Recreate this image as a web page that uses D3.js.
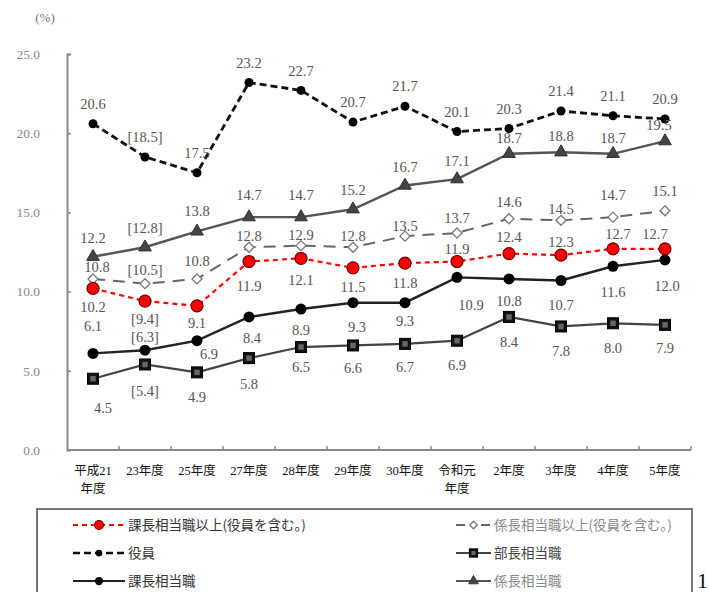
<!DOCTYPE html>
<html>
<head>
<meta charset="utf-8">
<script src="https://cdn.jsdelivr.net/npm/d3@7"></script>
<style>
  html, body { margin: 0; padding: 0; background: #fff; }
  svg { display: block; }
  text { font-family: "Liberation Serif", "DejaVu Serif", "Noto Sans CJK JP", serif; }
</style>
</head>
<body>
<svg id="chart" width="709" height="592"></svg>
<script>
// Fiscal years on the horizontal axis (two-line labels split on "\n")
const years = ["平成21\n年度", "23年度", "25年度", "27年度", "28年度", "29年度",
               "30年度", "令和元\n年度", "2年度", "3年度", "4年度", "5年度"];
// Values for 平成23年度 are shown in brackets
const bracketedYear = "23年度";

const yTicks = [0, 5, 10, 15, 20, 25];

// Share of women (%) by position
const yakuin         = [20.6, 18.5, 17.5, 23.2, 22.7, 20.7, 21.7, 20.1, 20.3, 21.4, 21.1, 20.9];
const kakaricho      = [12.2, 12.8, 13.8, 14.7, 14.7, 15.2, 16.7, 17.1, 18.7, 18.8, 18.7, 19.5];
const kakarichoUp    = [10.8, 10.5, 10.8, 12.8, 12.9, 12.8, 13.5, 13.7, 14.6, 14.5, 14.7, 15.1];
const kachoUp        = [10.2,  9.4,  9.1, 11.9, 12.1, 11.5, 11.8, 11.9, 12.4, 12.3, 12.7, 12.7];
const kacho          = [ 6.1,  6.3,  6.9,  8.4,  8.9,  9.3,  9.3, 10.9, 10.8, 10.7, 11.6, 12.0];
const bucho          = [ 4.5,  5.4,  4.9,  5.8,  6.5,  6.6,  6.7,  6.9,  8.4,  7.8,  8.0,  7.9];

const seriesNames = {
  kachoUp: "課長相当職以上(役員を含む。)",
  kakarichoUp: "係長相当職以上(役員を含む。)",
  yakuin: "役員",
  bucho: "部長相当職",
  kacho: "課長相当職",
  kakaricho: "係長相当職"
};

// Label placement per series: [dx, dy] from the point, per year
const A = (dy) => years.map(() => [0, dy]);
const labelOffsets = {
  yakuin: A(-20),
  kakaricho: [[0,-19],[0,-19],[0,-20],[0,-22],[0,-22],[0,-19],[0,-19],[0,-18],[0,-16],[0,-16],[0,-16],[-6,-16]],
  kakarichoUp: [[4,-12],[0,-14],[0,-18],[0,-11],[0,-11],[0,-11],[0,-10],[0,-15],[0,-17],[0,-11],[0,-22],[0,-20]],
  kachoUp: [[0,18],[0,18],[0,17],[0,24],[0,22],[0,19],[0,20],[0,-13],[0,-17],[0,-13],[5,-15],[-10,-15]],
  kacho: [[0,-27],[0,-13],[12,13],[3,21],[0,21],[4,24],[0,18],[14,28],[0,22],[0,24],[0,26],[2,26]],
  bucho: [[10,29],[0,26],[0,25],[0,26],[0,20],[0,22],[0,23],[0,24],[0,25],[0,24],[0,25],[0,23]]
};

const svg = d3.select("#chart");

const margin = { left: 67, right: 691, top: 54, bottom: 450 };
const x = d3.scaleBand().domain(years).range([margin.left, margin.right]).paddingInner(0).paddingOuter(0);
const cx = (i) => x(years[i]) + x.bandwidth() / 2;
const y = d3.scaleLinear().domain([0, 25]).range([margin.bottom, margin.top]);

// Axes
const axisColor = "#8a8a8a";
const yAxis = d3.axisLeft(y).tickValues(yTicks).tickFormat(d3.format(".1f")).tickSize(-4).tickPadding(27);
const gy = svg.append("g").attr("transform", `translate(${margin.left},0)`).call(yAxis);
gy.select(".domain").attr("stroke", axisColor).attr("stroke-width", 2);
gy.selectAll(".tick line").attr("stroke", axisColor).attr("stroke-width", 1.5);
gy.selectAll(".tick text").attr("fill", "#888").attr("font-size", 13.5)
  .style("font-family", "'Liberation Serif', serif");

// x axis baseline and boundary ticks
svg.append("line").attr("x1", margin.left).attr("x2", margin.right)
  .attr("y1", margin.bottom).attr("y2", margin.bottom)
  .attr("stroke", axisColor).attr("stroke-width", 2);
svg.append("g").selectAll("line").data(years.slice(1).concat(["__end"]))
  .join("line")
  .attr("x1", d => d === "__end" ? margin.right : x(d))
  .attr("x2", d => d === "__end" ? margin.right : x(d))
  .attr("y1", margin.bottom).attr("y2", margin.bottom - 4)
  .attr("stroke", axisColor).attr("stroke-width", 1.5);

// x labels
const xl = svg.append("g").selectAll("text").data(years).join("text")
  .attr("x", d => x(d) + x.bandwidth() / 2)
  .attr("y", 475)
  .attr("text-anchor", "middle")
  .attr("font-size", 12.5)
  .attr("fill", "#111");
xl.each(function(d) {
  const parts = d.split("\n");
  const t = d3.select(this);
  parts.forEach((p, k) => {
    t.append("tspan").attr("x", x(d) + x.bandwidth() / 2).attr("dy", k === 0 ? 0 : 18).text(p);
  });
});

// (%) unit
svg.append("text").attr("x", 45).attr("y", 22).attr("text-anchor", "middle")
  .attr("font-size", 13).attr("fill", "#777").text("(%)");

// Series styles
const styles = {
  yakuin:      { stroke: "#111", width: 2.8, dash: "7,4", marker: "dot" },
  kakaricho:   { stroke: "#555", width: 2.4, dash: null, marker: "triangle" },
  kakarichoUp: { stroke: "#666", width: 2, dash: "12,8", marker: "diamond" },
  kachoUp:     { stroke: "#f00", width: 2.2, dash: "5,4", marker: "redcircle" },
  kacho:       { stroke: "#222", width: 2.4, dash: null, marker: "circle" },
  bucho:       { stroke: "#444", width: 2.2, dash: null, marker: "square" }
};
const seriesData = { yakuin, kakaricho, kakarichoUp, kachoUp, kacho, bucho };
const drawOrder = ["bucho", "kacho", "kakarichoUp", "kachoUp", "kakaricho", "yakuin"];

function drawMarker(g, type, px, py, scale = 1) {
  if (type === "dot") {
    g.append("circle").attr("cx", px).attr("cy", py).attr("r", 4.5 * scale).attr("fill", "#000");
  } else if (type === "triangle") {
    g.append("path").attr("d", d3.symbol(d3.symbolTriangle, 70 * scale * scale)())
      .attr("transform", `translate(${px},${py})`).attr("fill", "#444").attr("stroke", "#333");
  } else if (type === "diamond") {
    const s = 5 * scale;
    g.append("path").attr("d", `M${px},${py - s}L${px + s},${py}L${px},${py + s}L${px - s},${py}Z`)
      .attr("fill", "#fff").attr("stroke", "#777").attr("stroke-width", 1.3);
  } else if (type === "redcircle") {
    g.append("circle").attr("cx", px).attr("cy", py).attr("r", 6 * scale)
      .attr("fill", "#f00").attr("stroke", "#600").attr("stroke-width", 1.2);
  } else if (type === "circle") {
    g.append("circle").attr("cx", px).attr("cy", py).attr("r", 5.5 * scale).attr("fill", "#000");
  } else if (type === "square") {
    const s = 11 * scale;
    g.append("rect").attr("x", px - s / 2).attr("y", py - s / 2).attr("width", s).attr("height", s)
      .attr("fill", "#111").attr("stroke", "#000");
    g.append("rect").attr("x", px - s / 4).attr("y", py - s / 4).attr("width", s / 2).attr("height", s / 2)
      .attr("fill", "#666");
  }
}

const line = d3.line().x((d, i) => cx(i)).y(d => y(d));

drawOrder.forEach(key => {
  const st = styles[key];
  const vals = seriesData[key];
  const g = svg.append("g");
  g.append("path").datum(vals).attr("d", line)
    .attr("fill", "none").attr("stroke", st.stroke).attr("stroke-width", st.width)
    .attr("stroke-dasharray", st.dash);
  vals.forEach((v, i) => drawMarker(g, st.marker, cx(i), y(v)));
});

// Value labels
drawOrder.forEach(key => {
  const vals = seriesData[key];
  svg.append("g").selectAll("text").data(vals).join("text")
    .attr("x", (d, i) => cx(i) + labelOffsets[key][i][0])
    .attr("y", (d, i) => y(d) + labelOffsets[key][i][1])
    .attr("dy", "0.35em")
    .attr("text-anchor", "middle")
    .attr("font-size", 14.5)
    .attr("fill", "#555")
    .text((d, i) => years[i] === bracketedYear ? `[${d.toFixed(1)}]` : d.toFixed(1));
});

// Legend
const legend = svg.append("g");
legend.append("rect").attr("x", 37).attr("y", 509).attr("width", 655).attr("height", 120)
  .attr("fill", "none").attr("stroke", "#555").attr("stroke-width", 1.6);

const legendItems = [
  { key: "kachoUp", col: 0, row: 0, textColor: "#333" },
  { key: "yakuin", col: 0, row: 1, textColor: "#333" },
  { key: "kacho", col: 0, row: 2, textColor: "#333" },
  { key: "kakarichoUp", col: 1, row: 0, textColor: "#888" },
  { key: "bucho", col: 1, row: 1, textColor: "#444" },
  { key: "kakaricho", col: 1, row: 2, textColor: "#888" }
];
const colX = [[73, 125], [456, 491]];
const rowY = [525, 553, 581];
legendItems.forEach(it => {
  const st = styles[it.key];
  const [x0, x1] = colX[it.col];
  const ly = rowY[it.row];
  legend.append("line").attr("x1", x0).attr("x2", x1).attr("y1", ly).attr("y2", ly)
    .attr("stroke", st.stroke).attr("stroke-width", st.width * 0.9)
    .attr("stroke-dasharray", it.key === "kakarichoUp" ? "9,16" : st.dash);
  drawMarker(legend, st.marker, (x0 + x1) / 2, ly, 0.75);
  legend.append("text").attr("x", x1 + 3).attr("y", ly).attr("dy", "0.35em")
    .attr("font-size", 13.5).attr("fill", it.textColor)
    .style("font-family", "'Noto Sans CJK JP', sans-serif")
    .text(seriesNames[it.key]);
});

// page number at the right edge
svg.append("text").attr("x", 697).attr("y", 588).attr("font-size", 22).attr("fill", "#111").text("1");
</script>
</body>
</html>
